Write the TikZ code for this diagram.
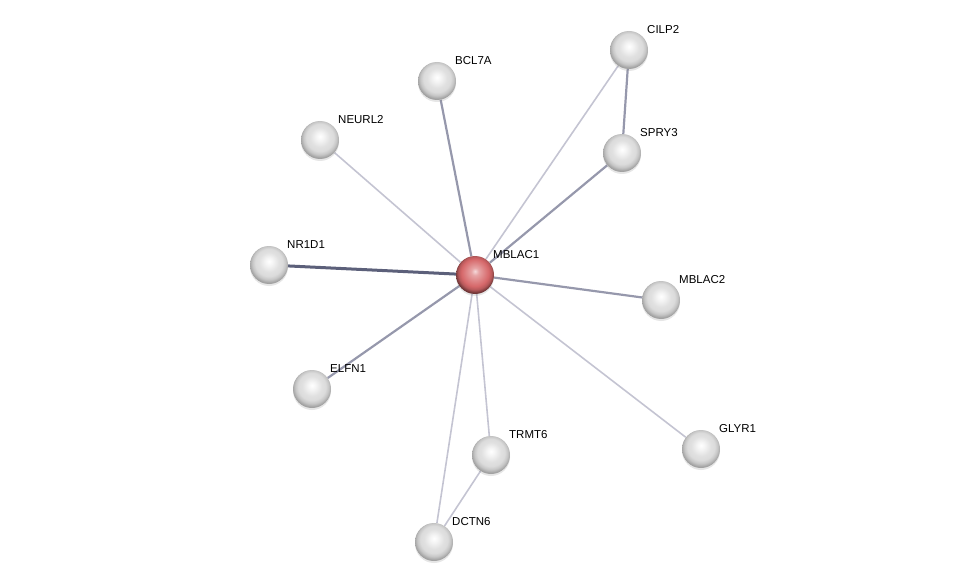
\documentclass[tikz,border=0pt]{standalone}
\usepackage{fontspec}
\setsansfont{Liberation Sans}
\usetikzlibrary{shadows,backgrounds}
\definecolor{EdgeLight}{RGB}{196,196,210}
\definecolor{EdgeMid}{RGB}{150,152,172}
\definecolor{EdgeDark}{RGB}{92,96,122}
\definecolor{QueryRed}{RGB}{214,104,106}
\pgfdeclareradialshading{greysphere}{\pgfpoint{0bp}{5bp}}{color(0bp)=(white); color(5bp)=(gray!8);
  color(13bp)=(gray!24); color(18bp)=(gray!28); color(22bp)=(gray!45); color(26bp)=(gray!75); color(50bp)=(gray!75)}
\pgfdeclareradialshading{redsphere}{\pgfpoint{0bp}{5bp}}{color(0bp)=(QueryRed!25!white); color(5bp)=(QueryRed!60!white);
  color(13bp)=(QueryRed!85!white); color(18bp)=(QueryRed); color(22bp)=(QueryRed!85!black); color(26bp)=(QueryRed!50!black); color(50bp)=(QueryRed!50!black)}

\tikzset{
  prot/.style={circle, minimum size=38pt, inner sep=0pt, shading=greysphere,
               drop shadow={opacity=0.2, shadow xshift=0pt, shadow yshift=-2pt}},
  query/.style={prot, shading=redsphere},
  lbl/.style={font=\sffamily\fontsize{11.5}{13}\selectfont, inner sep=0pt, anchor=south west},
  weak/.style={EdgeLight, line width=1.6pt},
  mid/.style={EdgeMid, line width=2.2pt},
  strong/.style={EdgeDark, line width=3pt},
}

\begin{document}
\begin{tikzpicture}[x=1pt, y=-1pt]
\useasboundingbox (0,0) rectangle (976,588);

% proteins
\node[query] (mblac1) at (475,275) {};
\node[prot] (bcl7a)  at (437,81)  {};
\node[prot] (cilp2)  at (629,50)  {};
\node[prot] (spry3)  at (622,153) {};
\node[prot] (neurl2) at (320,140) {};
\node[prot] (nr1d1)  at (269,265) {};
\node[prot] (mblac2) at (661,300) {};
\node[prot] (elfn1)  at (312,389) {};
\node[prot] (trmt6)  at (491,455) {};
\node[prot] (glyr1)  at (701,449) {};
\node[prot] (dctn6)  at (434,542) {};

% interactions
\begin{scope}[on background layer]
\draw[strong] (mblac1) -- (nr1d1);
\draw[mid] (mblac1) -- (bcl7a);
\draw[mid] (mblac1) -- (spry3);
\draw[mid] (mblac1) -- (mblac2);
\draw[mid] (mblac1) -- (elfn1);
\draw[mid] (cilp2) -- (spry3);
\draw[weak] (mblac1) -- (neurl2);
\draw[weak] (mblac1) -- (cilp2);
\draw[weak] (mblac1) -- (glyr1);
\draw[weak] (mblac1) -- (trmt6);
\draw[weak] (mblac1) -- (dctn6);
\draw[weak] (trmt6) -- (dctn6);
\end{scope}

% names
\foreach \n/\t in {mblac1/MBLAC1, bcl7a/BCL7A, cilp2/CILP2, spry3/SPRY3, neurl2/NEURL2,
                   nr1d1/NR1D1, mblac2/MBLAC2, elfn1/ELFN1, trmt6/TRMT6, glyr1/GLYR1, dctn6/DCTN6}
  \node[lbl] at ([shift={(18,-16)}]\n.center) {\t};
\end{tikzpicture}
\end{document}
